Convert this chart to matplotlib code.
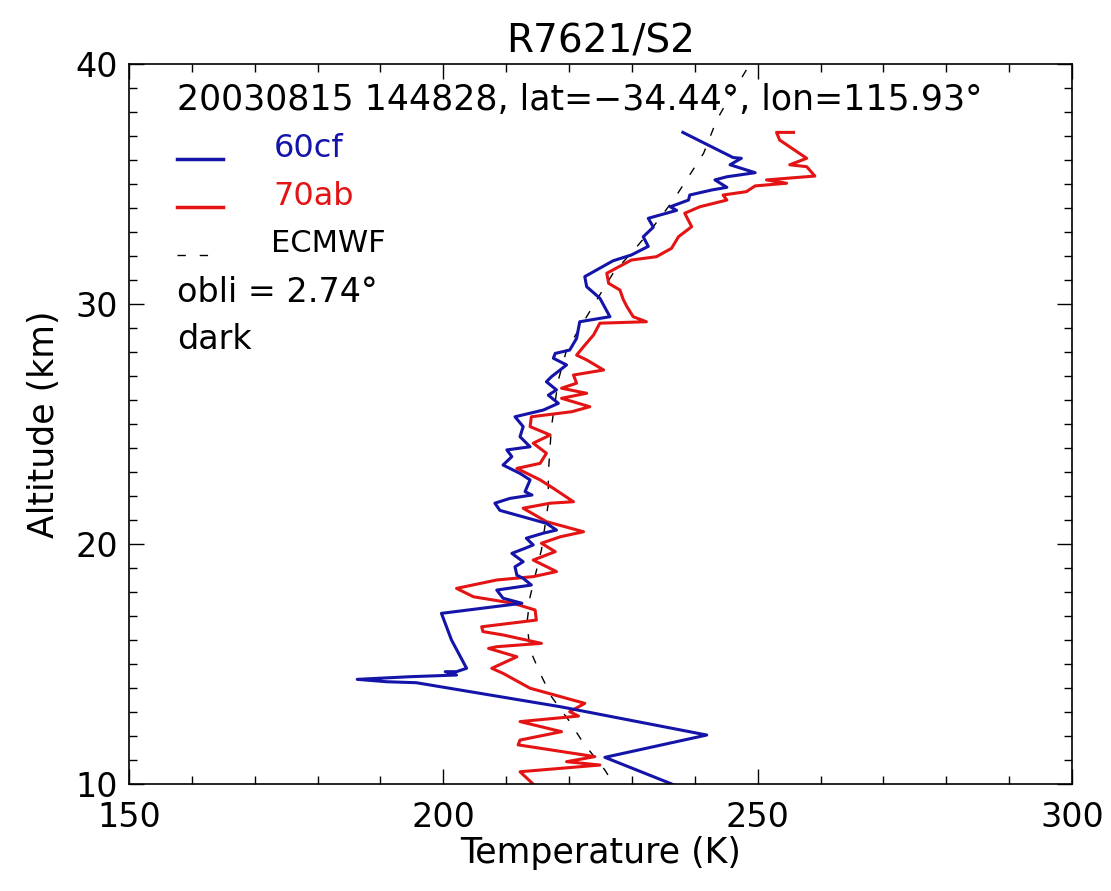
import matplotlib.pyplot as plt
from matplotlib.ticker import MultipleLocator

# 60cf profile (blue)
t_60cf = [238.1, 246.1, 247.4, 245.6, 249.6, 245.1, 243.2, 245.1, 242.7, 239.2,
          239.0, 236.1, 237.1, 232.6, 233.4, 231.8, 232.6, 229.9, 227.0, 222.5,
          222.8, 224.9, 226.5, 221.7, 221.2, 220.1, 217.8, 217.5, 219.6, 217.2,
          216.4, 218.0, 216.7, 218.3, 215.9, 211.4, 212.7, 212.2, 213.8, 210.1,
          210.9, 209.5, 212.2, 213.8, 213.0, 214.1, 210.6, 208.2, 209.0, 216.4,
          218.0, 215.9, 213.2, 214.3, 213.0, 210.9, 212.7, 211.4, 211.7, 212.7,
          214.0, 208.5, 209.5, 212.5, 199.7, 201.3, 203.7, 202.1, 200.3, 202.1,
          194.7, 186.3, 191.0, 195.7, 218.6, 241.9, 225.7, 237.1]
z_60cf = [37.15, 36.10, 36.07, 35.80, 35.47, 35.30, 35.17, 34.86, 34.75, 34.54,
          34.33, 34.05, 33.90, 33.57, 33.20, 32.80, 32.40, 32.04, 31.80, 31.14,
          30.72, 30.24, 29.47, 29.26, 28.57, 28.08, 27.94, 27.74, 27.46, 26.97,
          26.76, 26.42, 26.20, 25.86, 25.58, 25.30, 24.89, 24.47, 24.05, 23.92,
          23.64, 23.29, 22.94, 22.67, 22.18, 22.04, 21.90, 21.70, 21.40, 20.86,
          20.58, 20.45, 20.24, 19.96, 19.82, 19.61, 19.26, 19.05, 18.70, 18.57,
          18.29, 18.08, 17.74, 17.53, 17.11, 16.00, 14.82, 14.68, 14.68, 14.54,
          14.47, 14.36, 14.26, 14.22, 13.22, 12.04, 11.11, 9.92]

# 70ab profile (red)
t_70ab = [255.7, 253.0, 253.5, 257.8, 255.1, 257.8, 259.1, 251.4, 254.6, 249.6,
          248.2, 244.5, 245.1, 240.8, 238.4, 239.5, 237.4, 236.3, 233.9, 229.9,
          226.0, 226.3, 228.1, 228.6, 229.2, 230.2, 232.3, 224.9, 223.9, 222.3,
          221.2, 222.8, 225.5, 220.7, 221.2, 218.8, 222.8, 218.8, 223.3, 220.4,
          214.0, 213.8, 217.0, 214.3, 216.4, 215.4, 211.7, 215.4, 217.5, 220.7,
          217.0, 212.7, 216.4, 222.3, 218.6, 215.6, 217.8, 214.3, 218.0, 214.3,
          208.5, 202.1, 204.8, 211.1, 214.6, 214.8, 206.1, 206.3, 209.5, 215.6,
          208.5, 207.2, 211.7, 207.7, 209.5, 213.8, 222.5, 220.1, 221.5, 212.2,
          218.8, 212.2, 211.9, 224.1, 219.6, 224.9, 212.2, 214.6]
z_70ab = [37.15, 37.15, 36.83, 36.07, 35.80, 35.72, 35.33, 35.17, 35.03, 34.92,
          34.68, 34.54, 34.33, 34.05, 33.78, 33.22, 32.80, 32.32, 31.97, 31.83,
          31.28, 30.86, 30.58, 30.20, 29.89, 29.47, 29.26, 29.20, 28.71, 28.22,
          27.87, 27.67, 27.25, 27.04, 26.70, 26.49, 26.28, 26.07, 25.72, 25.51,
          25.30, 24.89, 24.54, 24.20, 23.78, 23.36, 23.15, 22.67, 22.32, 21.76,
          21.70, 21.49, 20.93, 20.51, 20.30, 20.03, 19.68, 19.33, 18.85, 18.64,
          18.50, 18.15, 17.80, 17.53, 17.25, 16.83, 16.55, 16.35, 16.21, 15.86,
          15.72, 15.65, 15.30, 14.82, 14.61, 13.99, 13.36, 13.01, 12.83, 12.60,
          12.18, 11.83, 11.63, 11.14, 10.93, 10.79, 10.51, 9.92]

# ECMWF profile (dashed)
t_ecmwf = [248.2, 245.3, 243.5, 241.4, 239.0, 236.6, 233.4, 230.8, 227.0, 224.4,
           219.6, 218.3, 217.2, 216.7, 216.7, 215.6, 213.8, 213.3, 213.8, 215.4,
           217.2, 219.9, 222.3, 225.7, 227.0]
z_ecmwf = [39.75, 38.50, 37.67, 36.28, 35.30, 34.33, 33.22, 32.39, 31.28, 30.17,
           28.08, 26.83, 24.89, 22.94, 21.70, 19.75, 17.80, 16.70, 15.58, 14.61,
           13.64, 12.67, 11.70, 10.58, 10.04]

blue = '#1414a8'
red = '#e41414'

fig = plt.figure(figsize=(11.11, 8.91), dpi=100)
ax = fig.add_axes([0.1161, 0.1201, 0.8488, 0.8081])

ax.plot(t_ecmwf, z_ecmwf, color='black', lw=1.0, dashes=(6, 10))
ax.plot(t_70ab, z_70ab, color=red, lw=2.2)
ax.plot(t_60cf, z_60cf, color=blue, lw=2.2)

ax.set_xlim(150, 300)
ax.set_ylim(10, 40)
ax.xaxis.set_major_locator(MultipleLocator(50))
ax.xaxis.set_minor_locator(MultipleLocator(10))
ax.yaxis.set_major_locator(MultipleLocator(10))
ax.yaxis.set_minor_locator(MultipleLocator(1))
ax.tick_params(which='both', direction='in', top=True, right=True, width=1.0)
ax.tick_params(which='major', length=11)
ax.tick_params(which='minor', length=6)
ax.tick_params(axis='x', labelsize=24, pad=12)
ax.tick_params(axis='y', labelsize=24, pad=8)
for s in ax.spines.values():
    s.set_linewidth(1.2)

ax.set_title("R7621/S2", fontsize=28, pad=8)
ax.set_xlabel("Temperature (K)", fontsize=25, labelpad=2)
ax.set_ylabel("Altitude (km)", fontsize=25, labelpad=10)

# annotations / legend
tr = ax.transAxes
ax.text(0.051, 0.95, "20030815 144828, lat=\u221234.44\u00b0, lon=115.93\u00b0",
        transform=tr, fontsize=25, va='center')
ax.plot([0.051, 0.100], [0.868, 0.868], color=blue, lw=2.5, transform=tr)
ax.text(0.153, 0.883, "60cf", color=blue, fontsize=23, va='center', transform=tr)
ax.plot([0.051, 0.100], [0.801, 0.801], color=red, lw=2.5, transform=tr)
ax.text(0.153, 0.816, "70ab", color=red, fontsize=23, va='center', transform=tr)
ax.plot([0.051, 0.087], [0.735, 0.735], color='black', lw=1.0, dashes=(6, 10),
        transform=tr)
ax.text(0.151, 0.750, "ECMWF", fontsize=22, va='center', transform=tr)
ax.text(0.051, 0.683, "obli = 2.74\u00b0", fontsize=24, va='center', transform=tr)
ax.text(0.051, 0.617, "dark", fontsize=24, va='center', transform=tr)

plt.savefig("out.png", dpi=100)
